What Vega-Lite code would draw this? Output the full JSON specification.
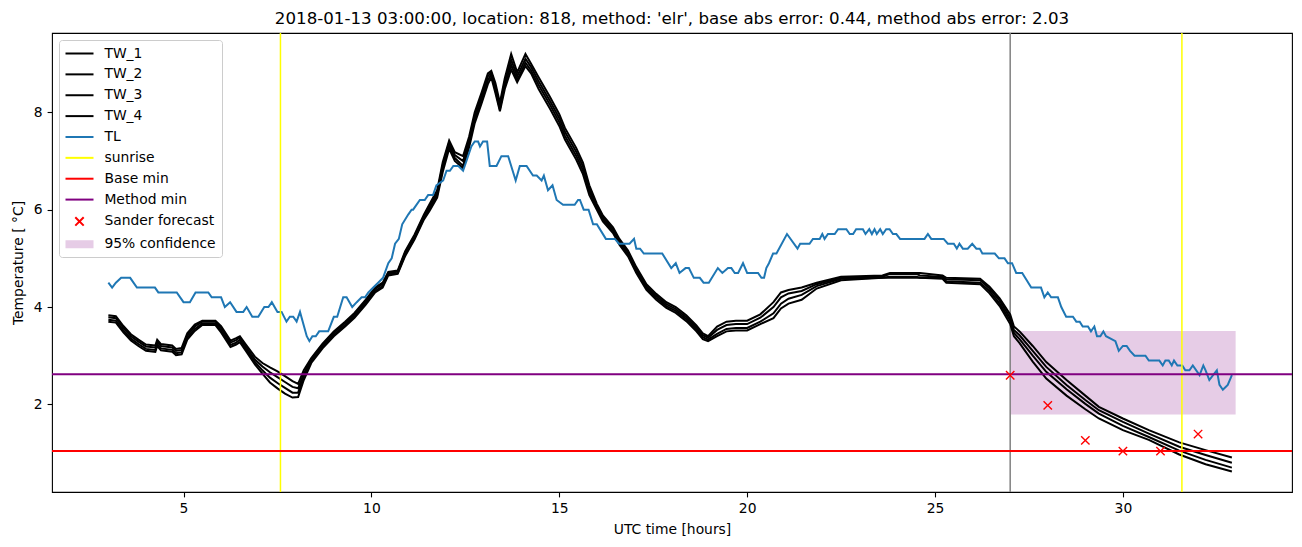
{
  "$schema": "https://vega.github.io/schema/vega-lite/v6.json",
  "width": 1240,
  "height": 459,
  "autosize": {"type": "none"},
  "padding": {"left": 52, "top": 33, "right": 10, "bottom": 55},
  "background": "white",
  "title": {"text": "2018-01-13 03:00:00, location: 818, method: 'elr', base abs error: 0.44, method abs error: 2.03", "font": "DejaVu Sans", "fontSize": 16.67, "fontWeight": "normal", "color": "black", "anchor": "middle", "baseline": "alphabetic", "offset": -8.5},
  "config": {
    "view": {"stroke": "black", "strokeWidth": 1.1},
    "font": "DejaVu Sans",
    "axis": {"domain": false, "grid": false, "tickColor": "black", "tickSize": 4.9, "tickWidth": 1.1, "labelFont": "DejaVu Sans", "labelFontSize": 13.89, "labelColor": "black", "labelPadding": 4.9, "titleFont": "DejaVu Sans", "titleFontSize": 13.89, "titleFontWeight": "normal", "titleColor": "black", "labelFlush": false},
    "legend": {"orient": "top-left", "offset": 7, "padding": 5.5, "strokeColor": "#cccccc", "fillColor": "rgba(255,255,255,0.8)", "cornerRadius": 3, "labelFont": "DejaVu Sans", "labelFontSize": 13.89, "labelColor": "black", "rowPadding": 5.87, "symbolSize": 196, "symbolOffset": 7, "labelOffset": 16.9, "symbolStrokeWidth": 2, "symbolType": "M-2,0H2"}
  },
  "datasets": {
    "tw": [
      {"t": 3.0, "TW_1": 3.83, "TW_2": 3.79, "TW_3": 3.74, "TW_4": 3.70},
      {"t": 3.2, "TW_1": 3.81, "TW_2": 3.77, "TW_3": 3.72, "TW_4": 3.68},
      {"t": 3.4, "TW_1": 3.61, "TW_2": 3.57, "TW_3": 3.52, "TW_4": 3.48},
      {"t": 3.6, "TW_1": 3.44, "TW_2": 3.40, "TW_3": 3.35, "TW_4": 3.31},
      {"t": 3.8, "TW_1": 3.33, "TW_2": 3.29, "TW_3": 3.24, "TW_4": 3.20},
      {"t": 4.0, "TW_1": 3.23, "TW_2": 3.19, "TW_3": 3.14, "TW_4": 3.10},
      {"t": 4.25, "TW_1": 3.21, "TW_2": 3.17, "TW_3": 3.12, "TW_4": 3.08},
      {"t": 4.3, "TW_1": 3.33, "TW_2": 3.29, "TW_3": 3.24, "TW_4": 3.20},
      {"t": 4.4, "TW_1": 3.24, "TW_2": 3.20, "TW_3": 3.15, "TW_4": 3.11},
      {"t": 4.7, "TW_1": 3.21, "TW_2": 3.17, "TW_3": 3.12, "TW_4": 3.08},
      {"t": 4.8, "TW_1": 3.14, "TW_2": 3.10, "TW_3": 3.05, "TW_4": 3.01},
      {"t": 4.95, "TW_1": 3.16, "TW_2": 3.12, "TW_3": 3.07, "TW_4": 3.03},
      {"t": 5.1, "TW_1": 3.46, "TW_2": 3.42, "TW_3": 3.37, "TW_4": 3.33},
      {"t": 5.3, "TW_1": 3.64, "TW_2": 3.60, "TW_3": 3.55, "TW_4": 3.51},
      {"t": 5.5, "TW_1": 3.72, "TW_2": 3.70, "TW_3": 3.66, "TW_4": 3.63},
      {"t": 5.85, "TW_1": 3.72, "TW_2": 3.70, "TW_3": 3.66, "TW_4": 3.63},
      {"t": 6.0, "TW_1": 3.61, "TW_2": 3.57, "TW_3": 3.52, "TW_4": 3.48},
      {"t": 6.25, "TW_1": 3.31, "TW_2": 3.27, "TW_3": 3.22, "TW_4": 3.18},
      {"t": 6.4, "TW_1": 3.36, "TW_2": 3.32, "TW_3": 3.27, "TW_4": 3.23},
      {"t": 6.5, "TW_1": 3.40, "TW_2": 3.38, "TW_3": 3.33, "TW_4": 3.28},
      {"t": 6.65, "TW_1": 3.24, "TW_2": 3.20, "TW_3": 3.15, "TW_4": 3.11},
      {"t": 6.9, "TW_1": 2.98, "TW_2": 2.92, "TW_3": 2.87, "TW_4": 2.82},
      {"t": 7.1, "TW_1": 2.85, "TW_2": 2.78, "TW_3": 2.70, "TW_4": 2.63},
      {"t": 7.3, "TW_1": 2.76, "TW_2": 2.66, "TW_3": 2.55, "TW_4": 2.45},
      {"t": 7.5, "TW_1": 2.68, "TW_2": 2.56, "TW_3": 2.44, "TW_4": 2.33},
      {"t": 7.7, "TW_1": 2.58, "TW_2": 2.46, "TW_3": 2.34, "TW_4": 2.22},
      {"t": 7.9, "TW_1": 2.48, "TW_2": 2.36, "TW_3": 2.24, "TW_4": 2.14},
      {"t": 8.05, "TW_1": 2.42, "TW_2": 2.33, "TW_3": 2.24, "TW_4": 2.15},
      {"t": 8.2, "TW_1": 2.70, "TW_2": 2.63, "TW_3": 2.57, "TW_4": 2.50},
      {"t": 8.4, "TW_1": 2.95, "TW_2": 2.92, "TW_3": 2.88, "TW_4": 2.85},
      {"t": 8.7, "TW_1": 3.25, "TW_2": 3.22, "TW_3": 3.18, "TW_4": 3.15},
      {"t": 9.0, "TW_1": 3.50, "TW_2": 3.47, "TW_3": 3.43, "TW_4": 3.40},
      {"t": 9.3, "TW_1": 3.70, "TW_2": 3.67, "TW_3": 3.63, "TW_4": 3.60},
      {"t": 9.55, "TW_1": 3.88, "TW_2": 3.85, "TW_3": 3.81, "TW_4": 3.78},
      {"t": 9.85, "TW_1": 4.15, "TW_2": 4.12, "TW_3": 4.08, "TW_4": 4.05},
      {"t": 10.1, "TW_1": 4.40, "TW_2": 4.37, "TW_3": 4.33, "TW_4": 4.30},
      {"t": 10.3, "TW_1": 4.50, "TW_2": 4.47, "TW_3": 4.43, "TW_4": 4.40},
      {"t": 10.45, "TW_1": 4.72, "TW_2": 4.70, "TW_3": 4.68, "TW_4": 4.65},
      {"t": 10.7, "TW_1": 4.75, "TW_2": 4.73, "TW_3": 4.70, "TW_4": 4.68},
      {"t": 10.9, "TW_1": 5.15, "TW_2": 5.12, "TW_3": 5.08, "TW_4": 5.05},
      {"t": 11.15, "TW_1": 5.49, "TW_2": 5.46, "TW_3": 5.42, "TW_4": 5.39},
      {"t": 11.4, "TW_1": 5.90, "TW_2": 5.87, "TW_3": 5.83, "TW_4": 5.80},
      {"t": 11.55, "TW_1": 6.12, "TW_2": 6.08, "TW_3": 6.03, "TW_4": 5.98},
      {"t": 11.75, "TW_1": 6.40, "TW_2": 6.35, "TW_3": 6.30, "TW_4": 6.25},
      {"t": 11.9, "TW_1": 6.98, "TW_2": 6.92, "TW_3": 6.85, "TW_4": 6.78},
      {"t": 12.07, "TW_1": 7.42, "TW_2": 7.38, "TW_3": 7.32, "TW_4": 7.25},
      {"t": 12.22, "TW_1": 7.18, "TW_2": 7.12, "TW_3": 7.06, "TW_4": 7.00},
      {"t": 12.44, "TW_1": 7.10, "TW_2": 7.00, "TW_3": 6.90, "TW_4": 6.85},
      {"t": 12.6, "TW_1": 7.50, "TW_2": 7.43, "TW_3": 7.36, "TW_4": 7.28},
      {"t": 12.75, "TW_1": 8.00, "TW_2": 7.94, "TW_3": 7.86, "TW_4": 7.78},
      {"t": 12.93, "TW_1": 8.40, "TW_2": 8.33, "TW_3": 8.26, "TW_4": 8.18},
      {"t": 13.1, "TW_1": 8.80, "TW_2": 8.74, "TW_3": 8.66, "TW_4": 8.58},
      {"t": 13.19, "TW_1": 8.85, "TW_2": 8.82, "TW_3": 8.78, "TW_4": 8.72},
      {"t": 13.3, "TW_1": 8.60, "TW_2": 8.53, "TW_3": 8.46, "TW_4": 8.40},
      {"t": 13.42, "TW_1": 8.20, "TW_2": 8.12, "TW_3": 8.06, "TW_4": 8.02},
      {"t": 13.55, "TW_1": 8.70, "TW_2": 8.63, "TW_3": 8.56, "TW_4": 8.48},
      {"t": 13.72, "TW_1": 9.20, "TW_2": 9.08, "TW_3": 8.98, "TW_4": 8.88},
      {"t": 13.88, "TW_1": 8.82, "TW_2": 8.74, "TW_3": 8.66, "TW_4": 8.62},
      {"t": 14.1, "TW_1": 9.20, "TW_2": 9.10, "TW_3": 9.02, "TW_4": 8.95},
      {"t": 14.25, "TW_1": 9.00, "TW_2": 8.93, "TW_3": 8.86, "TW_4": 8.80},
      {"t": 14.45, "TW_1": 8.72, "TW_2": 8.64, "TW_3": 8.56, "TW_4": 8.48},
      {"t": 14.75, "TW_1": 8.32, "TW_2": 8.24, "TW_3": 8.16, "TW_4": 8.08},
      {"t": 15.0, "TW_1": 7.96, "TW_2": 7.88, "TW_3": 7.80, "TW_4": 7.72},
      {"t": 15.15, "TW_1": 7.68, "TW_2": 7.60, "TW_3": 7.52, "TW_4": 7.44},
      {"t": 15.45, "TW_1": 7.27, "TW_2": 7.19, "TW_3": 7.11, "TW_4": 7.03},
      {"t": 15.63, "TW_1": 6.97, "TW_2": 6.89, "TW_3": 6.81, "TW_4": 6.73},
      {"t": 15.8, "TW_1": 6.50, "TW_2": 6.43, "TW_3": 6.37, "TW_4": 6.30},
      {"t": 16.0, "TW_1": 6.12, "TW_2": 6.08, "TW_3": 6.04, "TW_4": 6.00},
      {"t": 16.16, "TW_1": 5.88, "TW_2": 5.84, "TW_3": 5.80, "TW_4": 5.76},
      {"t": 16.43, "TW_1": 5.64, "TW_2": 5.60, "TW_3": 5.56, "TW_4": 5.52},
      {"t": 16.6, "TW_1": 5.40, "TW_2": 5.36, "TW_3": 5.32, "TW_4": 5.28},
      {"t": 16.83, "TW_1": 5.16, "TW_2": 5.12, "TW_3": 5.08, "TW_4": 5.04},
      {"t": 17.05, "TW_1": 4.82, "TW_2": 4.78, "TW_3": 4.74, "TW_4": 4.70},
      {"t": 17.32, "TW_1": 4.47, "TW_2": 4.43, "TW_3": 4.39, "TW_4": 4.35},
      {"t": 17.58, "TW_1": 4.27, "TW_2": 4.23, "TW_3": 4.19, "TW_4": 4.15},
      {"t": 17.85, "TW_1": 4.10, "TW_2": 4.06, "TW_3": 4.02, "TW_4": 3.98},
      {"t": 18.1, "TW_1": 4.00, "TW_2": 3.96, "TW_3": 3.92, "TW_4": 3.88},
      {"t": 18.38, "TW_1": 3.83, "TW_2": 3.79, "TW_3": 3.75, "TW_4": 3.71},
      {"t": 18.65, "TW_1": 3.62, "TW_2": 3.58, "TW_3": 3.54, "TW_4": 3.50},
      {"t": 18.82, "TW_1": 3.46, "TW_2": 3.42, "TW_3": 3.38, "TW_4": 3.34},
      {"t": 18.96, "TW_1": 3.40, "TW_2": 3.37, "TW_3": 3.33, "TW_4": 3.30},
      {"t": 19.2, "TW_1": 3.60, "TW_2": 3.53, "TW_3": 3.45, "TW_4": 3.40},
      {"t": 19.45, "TW_1": 3.70, "TW_2": 3.63, "TW_3": 3.55, "TW_4": 3.50},
      {"t": 19.7, "TW_1": 3.72, "TW_2": 3.65, "TW_3": 3.57, "TW_4": 3.52},
      {"t": 20.0, "TW_1": 3.72, "TW_2": 3.65, "TW_3": 3.57, "TW_4": 3.52},
      {"t": 20.35, "TW_1": 3.85, "TW_2": 3.78, "TW_3": 3.70, "TW_4": 3.65},
      {"t": 20.7, "TW_1": 4.10, "TW_2": 4.00, "TW_3": 3.87, "TW_4": 3.77},
      {"t": 20.9, "TW_1": 4.30, "TW_2": 4.20, "TW_3": 4.07, "TW_4": 3.97},
      {"t": 21.1, "TW_1": 4.35, "TW_2": 4.28, "TW_3": 4.17, "TW_4": 4.07},
      {"t": 21.45, "TW_1": 4.40, "TW_2": 4.33, "TW_3": 4.25, "TW_4": 4.15},
      {"t": 21.85, "TW_1": 4.50, "TW_2": 4.47, "TW_3": 4.43, "TW_4": 4.38},
      {"t": 22.5, "TW_1": 4.62, "TW_2": 4.60, "TW_3": 4.58, "TW_4": 4.55},
      {"t": 23.6, "TW_1": 4.65, "TW_2": 4.62, "TW_3": 4.60, "TW_4": 4.60},
      {"t": 23.8, "TW_1": 4.70, "TW_2": 4.68, "TW_3": 4.62, "TW_4": 4.60},
      {"t": 24.5, "TW_1": 4.70, "TW_2": 4.68, "TW_3": 4.62, "TW_4": 4.60},
      {"t": 24.6, "TW_1": 4.70, "TW_2": 4.65, "TW_3": 4.60, "TW_4": 4.60},
      {"t": 25.2, "TW_1": 4.65, "TW_2": 4.62, "TW_3": 4.60, "TW_4": 4.58},
      {"t": 25.3, "TW_1": 4.60, "TW_2": 4.57, "TW_3": 4.53, "TW_4": 4.50},
      {"t": 26.2, "TW_1": 4.58, "TW_2": 4.55, "TW_3": 4.50, "TW_4": 4.47},
      {"t": 26.45, "TW_1": 4.42, "TW_2": 4.38, "TW_3": 4.33, "TW_4": 4.28},
      {"t": 26.72, "TW_1": 4.18, "TW_2": 4.13, "TW_3": 4.07, "TW_4": 4.02},
      {"t": 27.0, "TW_1": 3.85, "TW_2": 3.78, "TW_3": 3.72, "TW_4": 3.65},
      {"t": 27.1, "TW_1": 3.60, "TW_2": 3.53, "TW_3": 3.47, "TW_4": 3.40},
      {"t": 27.25, "TW_1": 3.50, "TW_2": 3.42, "TW_3": 3.34, "TW_4": 3.26},
      {"t": 27.6, "TW_1": 3.20, "TW_2": 3.10, "TW_3": 3.00, "TW_4": 2.88},
      {"t": 27.96, "TW_1": 2.87, "TW_2": 2.77, "TW_3": 2.67, "TW_4": 2.53},
      {"t": 28.5, "TW_1": 2.50, "TW_2": 2.40, "TW_3": 2.31, "TW_4": 2.18},
      {"t": 29.0, "TW_1": 2.18, "TW_2": 2.09, "TW_3": 2.01, "TW_4": 1.90},
      {"t": 29.36, "TW_1": 1.95, "TW_2": 1.88, "TW_3": 1.81, "TW_4": 1.71},
      {"t": 30.0, "TW_1": 1.71, "TW_2": 1.64, "TW_3": 1.56, "TW_4": 1.47},
      {"t": 30.69, "TW_1": 1.47, "TW_2": 1.40, "TW_3": 1.33, "TW_4": 1.27},
      {"t": 31.5, "TW_1": 1.22, "TW_2": 1.13, "TW_3": 1.05, "TW_4": 0.97},
      {"t": 32.2, "TW_1": 1.06, "TW_2": 0.96, "TW_3": 0.86, "TW_4": 0.77},
      {"t": 32.9, "TW_1": 0.91, "TW_2": 0.80, "TW_3": 0.70, "TW_4": 0.62}
    ],
    "tl": [
      {"t": 3.0, "v": 4.5}, {"t": 3.1, "v": 4.4}, {"t": 3.2, "v": 4.5}, {"t": 3.34, "v": 4.6}, {"t": 3.58, "v": 4.6}, {"t": 3.76, "v": 4.4}, {"t": 4.24, "v": 4.4}, {"t": 4.33, "v": 4.3}, {"t": 4.82, "v": 4.3}, {"t": 5.0, "v": 4.1}, {"t": 5.17, "v": 4.1}, {"t": 5.32, "v": 4.3}, {"t": 5.66, "v": 4.3}, {"t": 5.75, "v": 4.2}, {"t": 6.0, "v": 4.2}, {"t": 6.1, "v": 4.0}, {"t": 6.24, "v": 4.1}, {"t": 6.41, "v": 3.9}, {"t": 6.59, "v": 3.9}, {"t": 6.68, "v": 4.0}, {"t": 6.83, "v": 3.8}, {"t": 6.99, "v": 3.8}, {"t": 7.15, "v": 4.0}, {"t": 7.26, "v": 4.0}, {"t": 7.35, "v": 4.1}, {"t": 7.5, "v": 3.9}, {"t": 7.61, "v": 3.9}, {"t": 7.74, "v": 3.7}, {"t": 7.83, "v": 3.8}, {"t": 7.92, "v": 3.8}, {"t": 8.01, "v": 3.7}, {"t": 8.1, "v": 3.9}, {"t": 8.28, "v": 3.4}, {"t": 8.35, "v": 3.3}, {"t": 8.43, "v": 3.4}, {"t": 8.52, "v": 3.4}, {"t": 8.61, "v": 3.5}, {"t": 8.85, "v": 3.5}, {"t": 9.0, "v": 3.8}, {"t": 9.09, "v": 3.8}, {"t": 9.25, "v": 4.2}, {"t": 9.34, "v": 4.2}, {"t": 9.49, "v": 4.0}, {"t": 9.61, "v": 4.1}, {"t": 9.74, "v": 4.2}, {"t": 9.83, "v": 4.2}, {"t": 9.92, "v": 4.3}, {"t": 10.05, "v": 4.4}, {"t": 10.18, "v": 4.5}, {"t": 10.31, "v": 4.6}, {"t": 10.45, "v": 4.9}, {"t": 10.54, "v": 5.0}, {"t": 10.63, "v": 5.3}, {"t": 10.73, "v": 5.4}, {"t": 10.82, "v": 5.7}, {"t": 10.98, "v": 5.9}, {"t": 11.07, "v": 6.0}, {"t": 11.11, "v": 6.0}, {"t": 11.29, "v": 6.2}, {"t": 11.42, "v": 6.2}, {"t": 11.51, "v": 6.3}, {"t": 11.64, "v": 6.3}, {"t": 11.73, "v": 6.5}, {"t": 11.91, "v": 6.6}, {"t": 12.0, "v": 6.8}, {"t": 12.09, "v": 6.8}, {"t": 12.18, "v": 6.9}, {"t": 12.31, "v": 6.9}, {"t": 12.44, "v": 6.8}, {"t": 12.53, "v": 7.0}, {"t": 12.66, "v": 7.3}, {"t": 12.75, "v": 7.4}, {"t": 12.84, "v": 7.4}, {"t": 12.89, "v": 7.3}, {"t": 12.97, "v": 7.4}, {"t": 13.08, "v": 7.4}, {"t": 13.15, "v": 6.9}, {"t": 13.33, "v": 6.9}, {"t": 13.46, "v": 7.1}, {"t": 13.64, "v": 7.1}, {"t": 13.84, "v": 6.6}, {"t": 13.95, "v": 6.9}, {"t": 14.13, "v": 6.9}, {"t": 14.3, "v": 6.7}, {"t": 14.4, "v": 6.7}, {"t": 14.53, "v": 6.6}, {"t": 14.59, "v": 6.7}, {"t": 14.7, "v": 6.4}, {"t": 14.82, "v": 6.5}, {"t": 14.93, "v": 6.2}, {"t": 15.1, "v": 6.1}, {"t": 15.41, "v": 6.1}, {"t": 15.5, "v": 6.2}, {"t": 15.55, "v": 6.2}, {"t": 15.65, "v": 6.0}, {"t": 15.78, "v": 6.0}, {"t": 15.9, "v": 5.7}, {"t": 16.0, "v": 5.7}, {"t": 16.24, "v": 5.4}, {"t": 16.48, "v": 5.4}, {"t": 16.59, "v": 5.3}, {"t": 16.87, "v": 5.3}, {"t": 16.99, "v": 5.4}, {"t": 17.05, "v": 5.2}, {"t": 17.15, "v": 5.2}, {"t": 17.25, "v": 5.1}, {"t": 17.74, "v": 5.1}, {"t": 17.98, "v": 4.8}, {"t": 18.1, "v": 4.9}, {"t": 18.2, "v": 4.7}, {"t": 18.36, "v": 4.8}, {"t": 18.45, "v": 4.8}, {"t": 18.58, "v": 4.6}, {"t": 18.74, "v": 4.6}, {"t": 18.84, "v": 4.5}, {"t": 18.98, "v": 4.5}, {"t": 19.22, "v": 4.8}, {"t": 19.34, "v": 4.7}, {"t": 19.49, "v": 4.8}, {"t": 19.58, "v": 4.8}, {"t": 19.67, "v": 4.7}, {"t": 19.76, "v": 4.7}, {"t": 19.89, "v": 4.9}, {"t": 20.0, "v": 4.7}, {"t": 20.29, "v": 4.7}, {"t": 20.38, "v": 4.6}, {"t": 20.45, "v": 4.6}, {"t": 20.51, "v": 4.8}, {"t": 20.58, "v": 4.9}, {"t": 20.69, "v": 5.1}, {"t": 20.78, "v": 5.1}, {"t": 21.06, "v": 5.5}, {"t": 21.34, "v": 5.2}, {"t": 21.41, "v": 5.3}, {"t": 21.66, "v": 5.3}, {"t": 21.75, "v": 5.4}, {"t": 21.93, "v": 5.4}, {"t": 22.0, "v": 5.5}, {"t": 22.06, "v": 5.4}, {"t": 22.15, "v": 5.5}, {"t": 22.33, "v": 5.5}, {"t": 22.42, "v": 5.6}, {"t": 22.64, "v": 5.6}, {"t": 22.73, "v": 5.5}, {"t": 22.82, "v": 5.5}, {"t": 22.9, "v": 5.6}, {"t": 23.08, "v": 5.6}, {"t": 23.15, "v": 5.5}, {"t": 23.25, "v": 5.6}, {"t": 23.32, "v": 5.5}, {"t": 23.39, "v": 5.6}, {"t": 23.45, "v": 5.5}, {"t": 23.54, "v": 5.6}, {"t": 23.61, "v": 5.5}, {"t": 23.7, "v": 5.6}, {"t": 23.79, "v": 5.6}, {"t": 23.88, "v": 5.5}, {"t": 23.97, "v": 5.5}, {"t": 24.07, "v": 5.4}, {"t": 24.72, "v": 5.4}, {"t": 24.81, "v": 5.5}, {"t": 24.9, "v": 5.4}, {"t": 25.23, "v": 5.4}, {"t": 25.34, "v": 5.3}, {"t": 25.5, "v": 5.3}, {"t": 25.58, "v": 5.2}, {"t": 25.65, "v": 5.3}, {"t": 25.74, "v": 5.2}, {"t": 25.87, "v": 5.2}, {"t": 25.99, "v": 5.3}, {"t": 26.1, "v": 5.2}, {"t": 26.19, "v": 5.2}, {"t": 26.26, "v": 5.1}, {"t": 26.59, "v": 5.1}, {"t": 26.7, "v": 5.0}, {"t": 26.85, "v": 5.0}, {"t": 26.94, "v": 4.9}, {"t": 27.05, "v": 4.9}, {"t": 27.16, "v": 4.7}, {"t": 27.32, "v": 4.7}, {"t": 27.56, "v": 4.4}, {"t": 27.82, "v": 4.4}, {"t": 27.91, "v": 4.2}, {"t": 28.0, "v": 4.3}, {"t": 28.09, "v": 4.2}, {"t": 28.27, "v": 4.2}, {"t": 28.36, "v": 4.0}, {"t": 28.49, "v": 3.8}, {"t": 28.67, "v": 3.8}, {"t": 28.76, "v": 3.7}, {"t": 28.85, "v": 3.7}, {"t": 28.93, "v": 3.6}, {"t": 29.07, "v": 3.6}, {"t": 29.15, "v": 3.5}, {"t": 29.24, "v": 3.6}, {"t": 29.31, "v": 3.4}, {"t": 29.4, "v": 3.4}, {"t": 29.48, "v": 3.5}, {"t": 29.55, "v": 3.4}, {"t": 29.8, "v": 3.3}, {"t": 29.89, "v": 3.1}, {"t": 30.0, "v": 3.2}, {"t": 30.1, "v": 3.2}, {"t": 30.19, "v": 3.1}, {"t": 30.31, "v": 3.0}, {"t": 30.6, "v": 3.0}, {"t": 30.69, "v": 2.9}, {"t": 30.97, "v": 2.9}, {"t": 31.06, "v": 2.8}, {"t": 31.13, "v": 2.9}, {"t": 31.22, "v": 2.9}, {"t": 31.3, "v": 2.8}, {"t": 31.36, "v": 2.9}, {"t": 31.45, "v": 2.8}, {"t": 31.58, "v": 2.8}, {"t": 31.66, "v": 2.7}, {"t": 31.77, "v": 2.7}, {"t": 31.86, "v": 2.8}, {"t": 32.04, "v": 2.6}, {"t": 32.14, "v": 2.8}, {"t": 32.2, "v": 2.7}, {"t": 32.3, "v": 2.5}, {"t": 32.4, "v": 2.6}, {"t": 32.5, "v": 2.7}, {"t": 32.57, "v": 2.4}, {"t": 32.66, "v": 2.3}, {"t": 32.79, "v": 2.4}, {"t": 32.9, "v": 2.6}
    ],
    "conf": [{"t1": 27, "t2": 33, "lo": 1.79, "hi": 3.51, "s": "95% confidence"}],
    "hlines": [{"v": 1.04, "s": "Base min"}, {"v": 2.62, "s": "Method min"}],
    "vlines": [{"t": 7.58, "s": "sunrise"}, {"t": 31.57, "s": "sunrise"}],
    "now": [{"t": 27}],
    "sander": [
      {"t": 27, "v": 2.6, "s": "Sander forecast"},
      {"t": 28, "v": 1.98, "s": "Sander forecast"},
      {"t": 29, "v": 1.26, "s": "Sander forecast"},
      {"t": 30, "v": 1.04, "s": "Sander forecast"},
      {"t": 31, "v": 1.04, "s": "Sander forecast"},
      {"t": 32, "v": 1.39, "s": "Sander forecast"}
    ]
  },
  "encoding": {
    "x": {"type": "quantitative", "scale": {"domain": [1.5, 34.5], "nice": false, "zero": false}, "axis": {"title": "UTC time [hours]", "values": [5, 10, 15, 20, 25, 30], "format": "d", "titlePadding": 7}},
    "y": {"type": "quantitative", "scale": {"domain": [0.2, 9.63], "nice": false, "zero": false}, "axis": {"title": "Temperature [ °C]", "values": [2, 4, 6, 8], "format": "d", "titlePadding": 8}}
  },
  "layer": [
    {
      "data": {"name": "conf"},
      "mark": {"type": "rect", "opacity": 1},
      "encoding": {
        "x": {"field": "t1", "type": "quantitative"},
        "x2": {"field": "t2"},
        "y": {"field": "lo", "type": "quantitative"},
        "y2": {"field": "hi"},
        "color": {
          "field": "s", "type": "nominal",
          "scale": {
            "domain": ["TW_1", "TW_2", "TW_3", "TW_4", "TL", "sunrise", "Base min", "Method min", "Sander forecast", "95% confidence"],
            "range": ["#000000", "#000000", "#000000", "#000000", "#1f77b4", "#ffff00", "#ff0000", "#800080", "#ff0000", "#e6cce6"]
          },
          "legend": {"title": null}
        }
      }
    },
    {
      "data": {"name": "now"},
      "mark": {"type": "rule", "color": "#808080", "strokeWidth": 1.5},
      "encoding": {"x": {"field": "t", "type": "quantitative"}}
    },
    {
      "data": {"name": "tw"},
      "transform": [{"fold": ["TW_1", "TW_2", "TW_3", "TW_4"], "as": ["s", "v"]}],
      "mark": {"type": "line", "strokeWidth": 2},
      "encoding": {
        "x": {"field": "t", "type": "quantitative"},
        "y": {"field": "v", "type": "quantitative"},
        "color": {"field": "s", "type": "nominal"}
      }
    },
    {
      "data": {"name": "tl"},
      "mark": {"type": "line", "strokeWidth": 2},
      "encoding": {
        "x": {"field": "t", "type": "quantitative"},
        "y": {"field": "v", "type": "quantitative"},
        "color": {"datum": "TL", "type": "nominal"}
      }
    },
    {
      "data": {"name": "vlines"},
      "mark": {"type": "rule", "strokeWidth": 1.5},
      "encoding": {
        "x": {"field": "t", "type": "quantitative"},
        "color": {"field": "s", "type": "nominal"}
      }
    },
    {
      "data": {"name": "hlines"},
      "mark": {"type": "rule", "strokeWidth": 2},
      "encoding": {
        "y": {"field": "v", "type": "quantitative"},
        "color": {"field": "s", "type": "nominal"}
      }
    },
    {
      "data": {"name": "sander"},
      "mark": {"type": "point", "size": 196, "filled": false, "strokeWidth": 1.4, "opacity": 1},
      "encoding": {
        "x": {"field": "t", "type": "quantitative"},
        "y": {"field": "v", "type": "quantitative"},
        "color": {"field": "s", "type": "nominal"},
        "shape": {
          "field": "s", "type": "nominal",
          "scale": {
            "domain": ["TW_1", "TW_2", "TW_3", "TW_4", "TL", "sunrise", "Base min", "Method min", "Sander forecast", "95% confidence"],
            "range": ["M-2,0H2", "M-2,0H2", "M-2,0H2", "M-2,0H2", "M-2,0H2", "M-2,0H2", "M-2,0H2", "M-2,0H2", "M-0.6,-0.6L0.6,0.6M-0.6,0.6L0.6,-0.6", "M-2,-0.43H2M-2,-0.14H2M-2,0.14H2M-2,0.43H2"]
          },
          "legend": {"title": null}
        }
      }
    }
  ]
}
